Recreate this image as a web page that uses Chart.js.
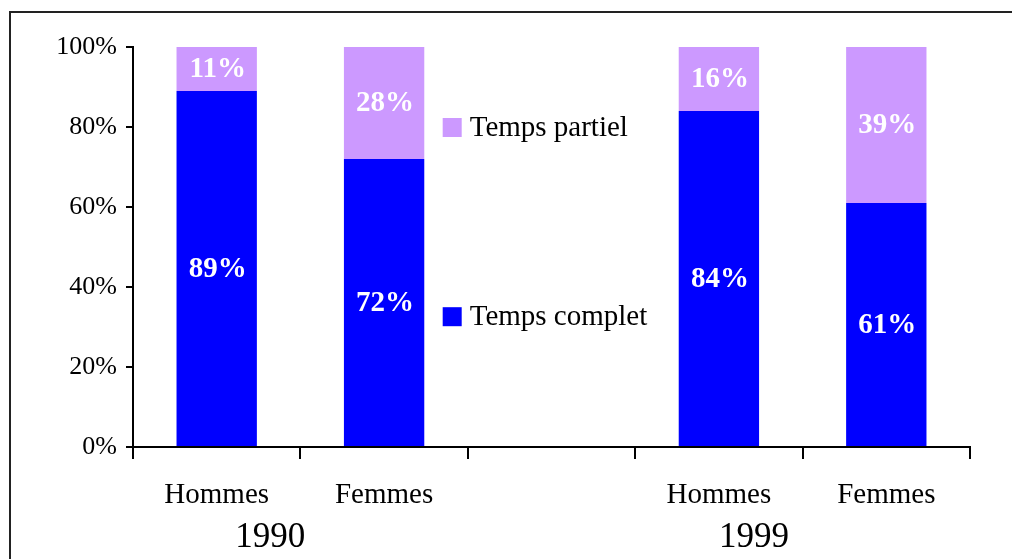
<!DOCTYPE html>
<html>
<head>
<meta charset="utf-8">
<script src="https://cdn.jsdelivr.net/npm/chart.js@4/dist/chart.umd.min.js"></script>
<style>
  html, body { margin: 0; padding: 0; background: #fff; }
  #wrap { position: relative; width: 1012px; height: 559px; overflow: hidden; }
  #frame { position: absolute; left: 9px; top: 11px; width: 1100px; height: 700px; border: 2px solid #222; }
  canvas { position: absolute; left: 0; top: 0; }
</style>
</head>
<body>
<div id="wrap">
  <div id="frame"></div>
  <canvas id="chart" width="1012" height="559"></canvas>
</div>
<script>
const categories = ["Hommes", "Femmes", "", "Hommes", "Femmes"];
const tempsComplet = [89, 72, null, 84, 61];
const tempsPartiel = [11, 28, null, 16, 39];
const years = ["1990", "1999"];
const yTicks = [0, 20, 40, 60, 80, 100];

const serif = "'Liberation Serif', 'Times New Roman', serif";

// étiquettes blanches au centre de chaque segment
const barLabels = {
  id: "barLabels",
  afterDatasetsDraw(chart) {
    const ctx = chart.ctx;
    ctx.save();
    ctx.fillStyle = "#fff";
    ctx.font = "bold 29px " + serif;
    ctx.textAlign = "center";
    ctx.textBaseline = "middle";
    chart.data.datasets.forEach((ds, i) => {
      chart.getDatasetMeta(i).data.forEach((bar, j) => {
        const v = ds.data[j];
        if (v == null) return;
        ctx.fillText(v + "%", bar.x + 1, (bar.y + bar.base) / 2 + 1);
      });
    });
    ctx.restore();
  }
};

// légende placée dans la zone vide du milieu
const innerLegend = {
  id: "innerLegend",
  afterDraw(chart) {
    const ctx = chart.ctx;
    const x = chart.scales.x, y = chart.scales.y;
    const left = x.getPixelForValue(1.35);
    const rows = [
      { ds: chart.data.datasets[1], at: 80 },
      { ds: chart.data.datasets[0], at: 32.7 }
    ];
    ctx.save();
    ctx.font = "29px " + serif;
    ctx.textBaseline = "middle";
    rows.forEach(r => {
      const py = y.getPixelForValue(r.at);
      ctx.fillStyle = r.ds.backgroundColor;
      ctx.fillRect(left, py - 9, 19, 19);
      ctx.fillStyle = "#000";
      ctx.fillText(r.ds.label, left + 27, py + 1);
    });
    ctx.restore();
  }
};

// années sous les groupes
const yearLabels = {
  id: "yearLabels",
  afterDraw(chart) {
    const ctx = chart.ctx;
    const x = chart.scales.x;
    const pos = [0.32, 3.21];
    ctx.save();
    ctx.font = "35px " + serif;
    ctx.textAlign = "center";
    ctx.textBaseline = "middle";
    ctx.fillStyle = "#000";
    years.forEach((yr, i) => {
      ctx.fillText(yr, x.getPixelForValue(pos[i]), 538);
    });
    ctx.restore();
  }
};

new Chart(document.getElementById("chart"), {
  type: "bar",
  data: {
    labels: categories,
    datasets: [
      {
        label: "Temps complet",
        data: tempsComplet,
        backgroundColor: "#0000FF",
        categoryPercentage: 1,
        barPercentage: 0.48
      },
      {
        label: "Temps partiel",
        data: tempsPartiel,
        backgroundColor: "#CC99FF",
        categoryPercentage: 1,
        barPercentage: 0.48
      }
    ]
  },
  options: {
    responsive: false,
    animation: false,
    layout: { padding: { left: 0, top: 47, right: 42, bottom: 0 } },
    plugins: {
      legend: { display: false },
      tooltip: { enabled: false }
    },
    scales: {
      x: {
        stacked: true,
        grid: { drawOnChartArea: false, drawTicks: true, tickLength: 12, color: "#000", lineWidth: 2 },
        border: { color: "#000", width: 2 },
        ticks: { color: "#000", font: { family: serif, size: 29 }, padding: 19, maxRotation: 0 },
        afterFit: s => { s.height = 112; }
      },
      y: {
        stacked: true,
        min: 0,
        max: 100,
        afterBuildTicks: s => { s.ticks = yTicks.map(v => ({ value: v })); },
        grid: { drawOnChartArea: false, drawTicks: true, tickLength: 7, color: "#000", lineWidth: 2 },
        border: { color: "#000", width: 2 },
        ticks: { color: "#000", font: { family: serif, size: 26 }, padding: 9, callback: v => v + "%" },
        afterFit: s => { s.width = 133; }
      }
    }
  },
  plugins: [barLabels, innerLegend, yearLabels]
});
</script>
</body>
</html>
